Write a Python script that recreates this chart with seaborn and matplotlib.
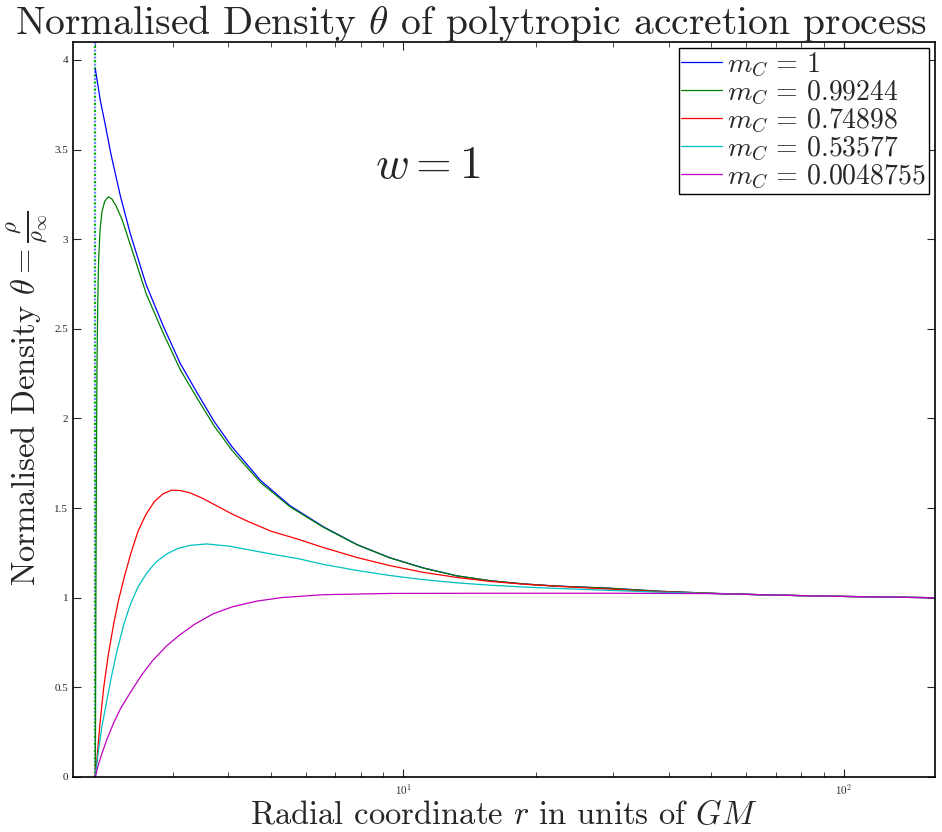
import numpy as np
import pandas as pd
import matplotlib
matplotlib.use("Agg")
import matplotlib.pyplot as plt
import seaborn as sns
from matplotlib.ticker import FixedLocator, FixedFormatter, LogLocator, NullFormatter

# ---------------- data ----------------
labels = [r"$m_C \,=\, 1$", r"$m_C \,=\, 0.99244$", r"$m_C \,=\, 0.74898$",
          r"$m_C \,=\, 0.53577$", r"$m_C \,=\, 0.0048755$"]
colors = ["#0000ff", "#008000", "#ff0000", "#00bfbf", "#bf00bf"]

r_blue = [2.0, 2.052, 2.106, 2.172, 2.278, 2.401, 2.609, 2.851, 3.116, 3.405, 3.72, 4.086,
          4.74, 5.535, 6.586, 7.86, 9.33, 11.08, 13.24, 15.73, 18.71, 22.3, 29.4, 38.2,
          51.2, 66.7, 90.2, 122.6, 160.0]
t_blue = [3.95, 3.777, 3.641, 3.471, 3.245, 3.031, 2.746, 2.517, 2.308, 2.143, 1.984, 1.842,
          1.655, 1.513, 1.396, 1.296, 1.223, 1.167, 1.122, 1.095, 1.077, 1.065, 1.053, 1.036,
          1.024, 1.016, 1.009, 1.004, 1.0]

r_green = [2.0, 2.006, 2.012, 2.018, 2.026, 2.035, 2.05, 2.07, 2.10, 2.14, 2.18, 2.23, 2.30,
           2.401, 2.609, 2.851, 3.116, 3.405, 3.72, 4.086, 4.74, 5.535, 6.586, 7.86, 9.33,
           11.08, 13.24, 15.73, 18.71, 22.3, 29.4, 38.2, 51.2, 66.7, 90.2, 122.6, 160.0]
t_green = [0.0, 1.0, 1.8, 2.3, 2.65, 2.88, 3.05, 3.15, 3.21, 3.236, 3.225, 3.185, 3.11,
           2.97, 2.696, 2.477, 2.273, 2.113, 1.959, 1.822, 1.643, 1.507, 1.393, 1.295, 1.222,
           1.166, 1.122, 1.095, 1.077, 1.065, 1.053, 1.036, 1.024, 1.016, 1.009, 1.004, 1.0]

r_red = [2.0, 2.02, 2.05, 2.09, 2.14, 2.20, 2.26, 2.33, 2.41, 2.50, 2.60, 2.72, 2.85, 2.98,
         3.12, 3.28, 3.50, 3.71, 4.05, 4.42, 5.0, 5.83, 6.586, 7.86, 9.33, 11.08, 13.24,
         15.73, 18.71, 22.3, 29.4, 38.2, 51.2, 66.7, 90.2, 122.6, 160.0]
t_red = [0.0, 0.12, 0.30, 0.50, 0.68, 0.85, 0.99, 1.12, 1.25, 1.37, 1.46, 1.535, 1.58, 1.60,
         1.598, 1.585, 1.555, 1.522, 1.472, 1.428, 1.372, 1.323, 1.280, 1.224, 1.179, 1.142,
         1.113, 1.091, 1.076, 1.064, 1.048, 1.034, 1.023, 1.016, 1.009, 1.004, 1.0]

r_cyan = [2.0, 2.015, 2.034, 2.07, 2.125, 2.18, 2.239, 2.32, 2.40, 2.50, 2.62, 2.75, 2.91,
          3.08, 3.28, 3.58, 4.05, 4.81, 5.83, 6.586, 7.86, 9.33, 11.08, 13.24, 15.73, 18.71,
          22.3, 29.4, 38.2, 51.2, 66.7, 90.2, 122.6, 160.0]
t_cyan = [0.0, 0.07, 0.15, 0.28, 0.43, 0.57, 0.70, 0.85, 0.96, 1.06, 1.14, 1.20, 1.245,
          1.275, 1.292, 1.300, 1.287, 1.252, 1.216, 1.186, 1.152, 1.124, 1.101, 1.083, 1.070,
          1.060, 1.052, 1.041, 1.031, 1.023, 1.016, 1.009, 1.004, 1.0]

r_mag = [2.0, 2.03, 2.07, 2.125, 2.20, 2.28, 2.40, 2.55, 2.70, 2.90, 3.10, 3.35, 3.70, 4.10,
         4.65, 5.3, 6.6, 9.33, 15.73, 29.4, 51.2, 66.7, 90.2, 122.6, 160.0]
t_mag = [0.0, 0.065, 0.13, 0.21, 0.30, 0.38, 0.47, 0.57, 0.65, 0.73, 0.79, 0.85, 0.91, 0.95,
         0.981, 1.001, 1.017, 1.024, 1.025, 1.025, 1.023, 1.016, 1.009, 1.004, 1.0]

series_r = [r_blue, r_green, r_red, r_cyan, r_mag]
series_t = [t_blue, t_green, t_red, t_cyan, t_mag]

y_ticks = [0, 0.5, 1, 1.5, 2, 2.5, 3, 3.5, 4]
y_ticklabels = ["0", "0.5", "1", "1.5", "2", "2.5", "3", "3.5", "4"]

# ---------------- build long-form table ----------------
frames = []
for lab, rr, tt in zip(labels, series_r, series_t):
    frames.append(pd.DataFrame({"r": rr, "theta": tt, "case": lab}))
df = pd.concat(frames, ignore_index=True)

# ---------------- style ----------------
sns.set_style("ticks")
plt.rcParams["font.family"] = ["cmr10", "DejaVu Serif"]
plt.rcParams["mathtext.fontset"] = "cm"
plt.rcParams["axes.formatter.use_mathtext"] = True
plt.rcParams["axes.unicode_minus"] = False

fig = plt.figure(figsize=(9.42, 8.32), dpi=100)
ax = fig.add_axes([73 / 942, 1 - 777 / 832, (935 - 73) / 942, (777 - 42) / 832])

# vertical dotted marker at r = 2 (blue and green overlaid)
ax.axvline(2.0, color="#6f8fff", lw=1.6, ls=(0, (1, 2.2)), zorder=1)
ax.axvline(2.0, color="#00b000", lw=1.6, ls=(1.6, (1, 2.2)), zorder=1)

sns.lineplot(data=df, x="r", y="theta", hue="case", palette=dict(zip(labels, colors)),
             hue_order=labels, estimator=None, sort=True, lw=0.9, ax=ax, legend=False)

ax.set_xscale("log")
ax.set_xlim(1.78, 161)
ax.set_ylim(0, 4.1)

ax.yaxis.set_major_locator(FixedLocator(y_ticks))
ax.yaxis.set_major_formatter(FixedFormatter(y_ticklabels))
ax.xaxis.set_major_locator(LogLocator(base=10))
ax.xaxis.set_minor_locator(LogLocator(base=10, subs=np.arange(2, 10)))
ax.xaxis.set_minor_formatter(NullFormatter())

ax.tick_params(which="both", direction="in", top=True, right=True, labelsize=8)
ax.tick_params(which="major", length=6, width=0.8)
ax.tick_params(which="minor", length=3.5, width=0.6)
for t in ax.get_yticklabels():
    t.set_fontfamily(["Liberation Serif"])
for s in ax.spines.values():
    s.set_linewidth(1.2)
    s.set_color("black")

ax.set_xlabel(r"Radial coordinate $r$ in units of $GM$", fontsize=23.5)
ax.xaxis.set_label_coords(0.5, -0.031)
ax.set_ylabel(r"Normalised Density $\theta = \frac{\rho}{\rho_\infty}$", fontsize=23.5)
ax.yaxis.set_label_coords(-0.027, 0.515)
fig.text(0.5, 0.996, r"Normalised Density $\theta$ of polytropic accretion process",
         ha="center", va="top", fontsize=28.5)

ax.text(0.412, 0.831, r"$w = 1$", transform=ax.transAxes, fontsize=33,
        ha="center", va="center")

handles = [plt.Line2D([], [], color=c, lw=0.9) for c in colors]
leg = ax.legend(handles, labels, loc="upper right",
                bbox_to_anchor=(1 - 6 / 862, 1 - 6 / 735),
                fontsize=20, frameon=True, fancybox=False, framealpha=1,
                edgecolor="black", handlelength=1.45, handletextpad=0.2,
                labelspacing=0.0, borderpad=0.1, borderaxespad=0.0)
leg.get_frame().set_linewidth(1.0)

fig.savefig("out.png", dpi=100)
